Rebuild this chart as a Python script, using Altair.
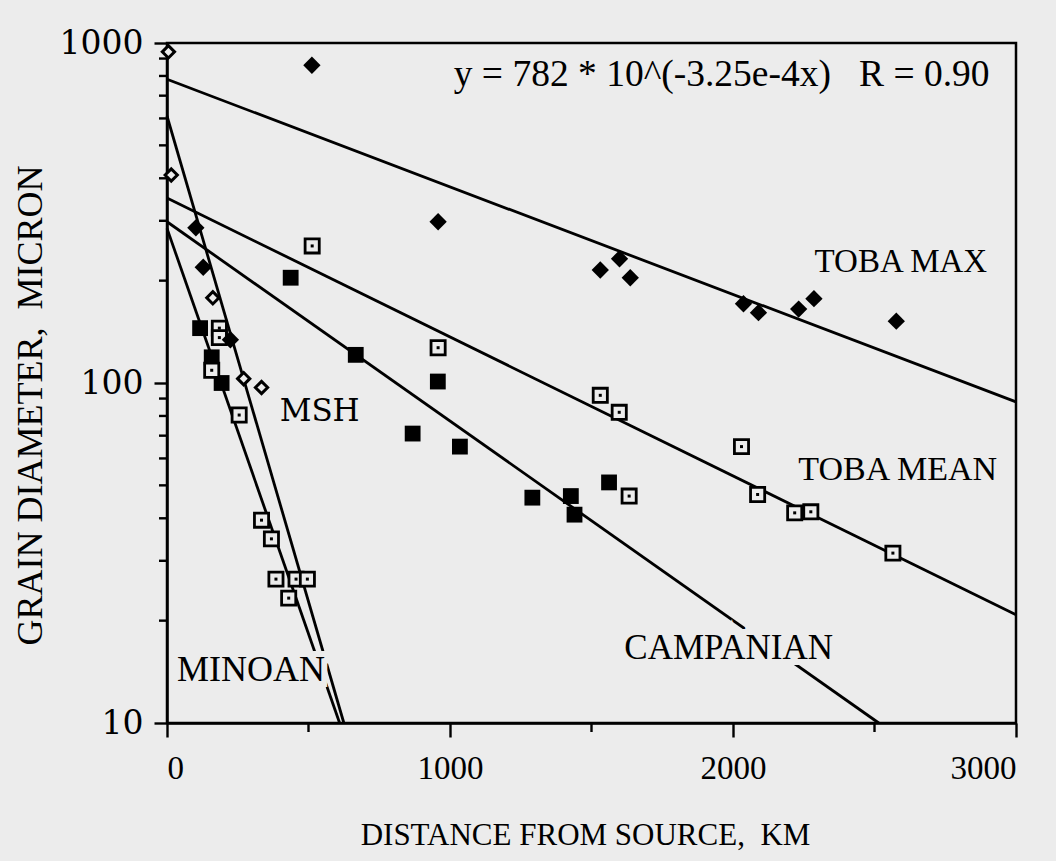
import altair as alt
import pandas as pd

BG = "#ececec"
SERIF = "Liberation Serif"
WIDE = "DejaVu Serif"

# ---- data (distance km, grain diameter micron) ----
# TOBA maximum (filled diamonds)
toba_max_km = [512, 958, 1531, 1599, 1637, 2037, 2090, 2232, 2286, 2577]
toba_max_um = [860, 298, 215, 232, 204, 171, 161, 165, 177, 152]
# TOBA mean (open dotted squares)
toba_mean_km = [513, 958, 1531, 1598, 1633, 2030, 2087, 2218, 2275, 2565]
toba_mean_um = [253, 127, 92, 82, 46.5, 65, 47, 41.5, 41.8, 31.6]
# Campanian (filled squares)
camp_km = [437, 667, 868, 957, 1035, 1291, 1427, 1440, 1562]
camp_um = [204, 121, 71, 101, 65, 46, 46.5, 41, 51]
# MSH (open and filled diamonds)
msh_open_km = [5, 15, 162, 271, 334]
msh_open_um = [942, 409, 178, 103, 97]
msh_fill_km = [102, 128, 224]
msh_fill_um = [286, 219, 134]
# Minoan (filled and open dotted squares)
min_fill_km = [117, 158, 193]
min_fill_um = [145, 119, 100]
min_open_km = [185, 185, 158, 255, 334, 369, 385, 456, 496, 430]
min_open_um = [145, 136, 109, 80.5, 39.5, 34.8, 26.5, 26.5, 26.5, 23.3]

# fitted lines: end points
line_names = ["TOBA MAX", "TOBA MEAN", "CAMPANIAN", "MSH", "MINOAN"]
line_x0 = [0, 0, 0, 0, 0]
line_y0 = [782, 350, 298, 610, 285]
line_x1 = [3000, 3000, 2515, 625, 610]
line_y1 = [88, 20.8, 10, 10, 10]

# text labels
label_text = ["y = 782 * 10^(-3.25e-4x)\u00a0\u00a0\u00a0R = 0.90", "TOBA MAX", "TOBA MEAN",
              "CAMPANIAN", "MSH", "MINOAN"]
label_km = [1960, 2288, 2231, 1616, 398, 35]
label_um = [805, 227, 55.5, 16.6, 82, 14.3]

x_major = [0, 1000, 2000, 3000]
x_minor = [500, 1500, 2500]
y_major = [10, 100, 1000]
y_minor = [20, 30, 40, 50, 60, 70, 80, 90, 200, 300, 400, 500, 600, 700, 800, 900]

# ---- tables ----
filled_diamonds = pd.DataFrame({"x": toba_max_km + msh_fill_km, "y": toba_max_um + msh_fill_um})
open_diamonds = pd.DataFrame({"x": msh_open_km, "y": msh_open_um})
filled_squares = pd.DataFrame({"x": camp_km + min_fill_km, "y": camp_um + min_fill_um})
open_squares = pd.DataFrame({"x": toba_mean_km + min_open_km, "y": toba_mean_um + min_open_um})

rows = []
for n, a, b, c, d in zip(line_names, line_x0, line_y0, line_x1, line_y1):
    rows.append({"name": n, "x": a, "y": b})
    rows.append({"name": n, "x": c, "y": d})
lines = pd.DataFrame(rows)

labels = pd.DataFrame({"text": label_text, "x": label_km, "y": label_um})
xminor_df = pd.DataFrame({"x": x_minor})
yminor_df = pd.DataFrame({"y": y_minor})

XS = alt.Scale(domain=[0, 3000], nice=False, zero=False)
YS = alt.Scale(type="log", domain=[10, 1000], nice=False)

X = alt.X("x:Q", scale=XS,
          axis=alt.Axis(values=x_major, format="d", tickSize=14,
                        tickWidth=2.4, tickColor="black", domainColor="black", domainWidth=2.5,
                        grid=False, labelFont=SERIF, labelFontSize=33, labelColor="black",
                        labelPadding=15, labelOverlap=False,
                        title="DISTANCE FROM SOURCE,\u00a0\u00a0KM", titleFont=SERIF,
                        titleFontSize=31, titleFontWeight="normal", titleColor="black",
                        titleX=418, titleY=112, titleAlign="center", titleBaseline="middle"))
Y = alt.Y("y:Q", scale=YS,
          axis=alt.Axis(values=y_major, format="d", tickSize=13,
                        tickWidth=2.4, tickColor="black", domainColor="black", domainWidth=2.5,
                        grid=False, labelFont=WIDE, labelFontSize=33, labelColor="black",
                        labelPadding=11, labelOverlap=False,
                        title="GRAIN DIAMETER,\u00a0\u00a0MICRON", titleFont=SERIF,
                        titleFontSize=36, titleFontWeight="normal", titleColor="black",
                        titleAngle=-90, titleX=-137, titleY=362, titleAlign="center",
                        titleBaseline="middle"))

line_layer = alt.Chart(lines).mark_line(color="black", strokeWidth=2.8).encode(
    x=X, y=Y, detail="name:N")

# minor ticks (same scales and axes as the rest)
xminor_layer = alt.Chart(xminor_df).mark_rule(color="black", strokeWidth=2.4).encode(
    x=X, y=alt.value(680), y2=alt.value(689))
yminor_layer = alt.Chart(yminor_df).mark_rule(color="black", strokeWidth=2.4).encode(
    y=Y, x=alt.value(-8), x2=alt.value(0))


def label_layer(i, font, size, align, halo=False):
    d = labels.iloc[[i]]
    kw = dict(font=font, fontSize=size, align=align, baseline="middle")
    if halo:
        m = alt.Chart(d).mark_text(fill=BG, stroke=BG, strokeWidth=12, **kw)
    else:
        m = alt.Chart(d).mark_text(color="black", **kw)
    return m.encode(x=X, y=Y, text="text:N")


halos = [label_layer(3, SERIF, 35, "left", True), label_layer(5, SERIF, 36, "left", True)]
texts = [
    label_layer(0, SERIF, 37.5, "center"),
    label_layer(1, SERIF, 33, "left"),
    label_layer(2, SERIF, 34, "left"),
    label_layer(3, SERIF, 35, "left"),
    label_layer(4, WIDE, 31, "left"),
    label_layer(5, SERIF, 36, "left"),
]

fd = alt.Chart(filled_diamonds).mark_point(shape="diamond", filled=True, color="black",
                                            opacity=1, size=300).encode(x=X, y=Y)
od = alt.Chart(open_diamonds).mark_point(shape="diamond", filled=True, fill=BG, stroke="black",
                                          strokeWidth=3, opacity=1, size=150).encode(x=X, y=Y)
fs = alt.Chart(filled_squares).mark_point(shape="square", filled=True, color="black",
                                           opacity=1, size=250).encode(x=X, y=Y)
os_ = alt.Chart(open_squares).mark_point(shape="square", filled=True, fill=BG, stroke="black",
                                          strokeWidth=2.8, opacity=1, size=200).encode(x=X, y=Y)
od_dot = alt.Chart(open_squares).mark_point(shape="square", filled=True, color="black",
                                             opacity=1, size=9).encode(x=X, y=Y)

chart = alt.layer(line_layer, xminor_layer, yminor_layer, *halos, *texts,
                  fs, os_, od_dot, fd, od).properties(
    width=849, height=680, background=BG,
    padding={"left": 167, "top": 43, "right": 40, "bottom": 138},
    autosize=alt.AutoSizeParams(type="none"),
).configure_view(stroke="black", strokeWidth=2.5, fill=BG)

chart.save("out.html", embed_options={"renderer": "svg", "actions": False})
